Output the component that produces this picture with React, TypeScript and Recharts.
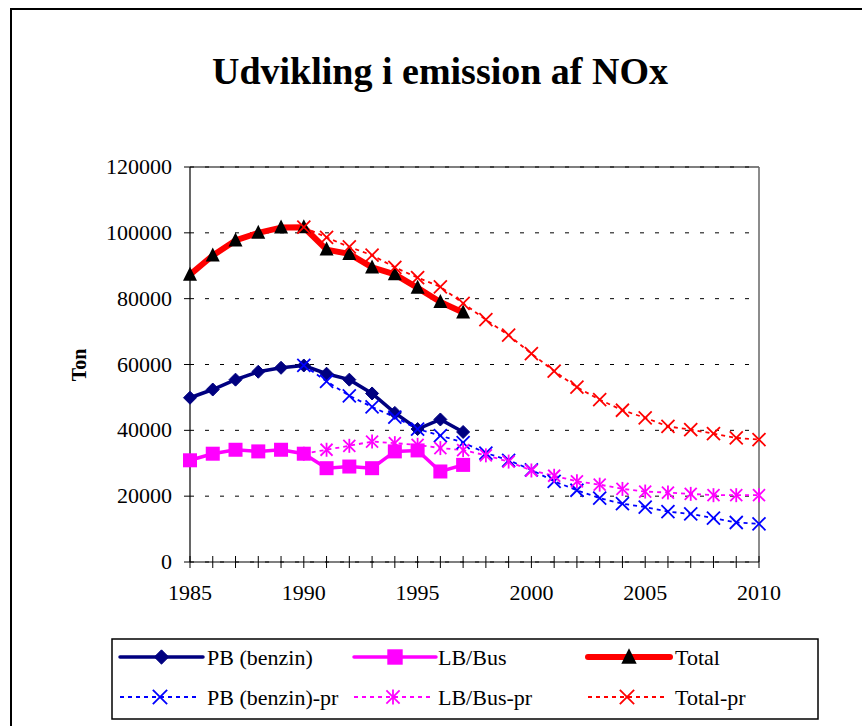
import React from 'react';
import { LineChart, Line, XAxis, YAxis, CartesianGrid, ReferenceLine } from 'recharts';

const years = [1985, 1986, 1987, 1988, 1989, 1990, 1991, 1992, 1993, 1994, 1995, 1996, 1997, 1998, 1999, 2000, 2001, 2002, 2003, 2004, 2005, 2006, 2007, 2008, 2009, 2010];
const pb = [49900, 52400, 55400, 57800, 59000, 59700, 57200, 55400, 51200, 45300, 40400, 43300, 39500];
const lb = [30900, 32900, 34100, 33600, 34100, 32900, 28500, 29000, 28500, 33600, 33900, 27500, 29500];
const total = [87300, 93100, 97700, 100000, 101600, 101700, 94900, 93600, 89500, 87400, 83300, 79000, 75800];
const prStartYear = 1990;
const pbPr = [59700, 54900, 50500, 47100, 44000, 40400, 38400, 36300, 33100, 30900, 28000, 24500, 21800, 19400, 17700, 16700, 15300, 14600, 13300, 12000, 11600];
const lbPr = [32900, 34100, 35300, 36600, 36100, 35600, 34600, 34000, 32400, 30500, 27800, 26200, 24500, 23500, 22200, 21400, 21100, 20700, 20300, 20300, 20300];
const totalPr = [101700, 98600, 95700, 93200, 89500, 86400, 83600, 78600, 73600, 68900, 63300, 58000, 53100, 49300, 46100, 43800, 41200, 40200, 39000, 37700, 37200];
const yTicks = [0, 20000, 40000, 60000, 80000, 100000, 120000];
const title = 'Udvikling i emission af NOx';
const yLabel = 'Ton';
const legendNames = ['PB (benzin)', 'LB/Bus', 'Total', 'PB (benzin)-pr', 'LB/Bus-pr', 'Total-pr'];

const data = years.map((year, i) => {
  const j = year - prStartYear;
  return {
    year,
    pb: i < pb.length ? pb[i] : null,
    lb: i < lb.length ? lb[i] : null,
    total: i < total.length ? total[i] : null,
    pbPr: j >= 0 ? pbPr[j] : null,
    lbPr: j >= 0 ? lbPr[j] : null,
    totalPr: j >= 0 ? totalPr[j] : null,
  };
});

const FONT = 'Liberation Serif';
const NAVY = '#000080';
const MAGENTA = '#FF00FF';
const RED = '#FF0000';
const BLUE = '#0000FF';

type Kind = 'diamond' | 'square' | 'triangle' | 'xblue' | 'asterisk' | 'xred';

const Marker = ({ kind, cx, cy, s = 1 }: { kind: Kind; cx: number; cy: number; s?: number }) => {
  switch (kind) {
    case 'diamond': {
      const r = 6.5 * s;
      return <polygon points={`${cx},${cy - r} ${cx + r},${cy} ${cx},${cy + r} ${cx - r},${cy}`} fill={NAVY} stroke={NAVY} strokeWidth={1} />;
    }
    case 'square': {
      const h = 7 * s;
      return <rect x={cx - h} y={cy - h} width={2 * h} height={2 * h} fill={MAGENTA} />;
    }
    case 'triangle': {
      const h = 7 * s;
      return <polygon points={`${cx},${cy - h - 1} ${cx + h},${cy + h - 1} ${cx - h},${cy + h - 1}`} fill="#000" />;
    }
    case 'xblue':
    case 'xred': {
      const c = kind === 'xblue' ? BLUE : RED;
      const h = 6.5 * s;
      return (
        <g stroke={c} strokeWidth={1.8}>
          <line x1={cx - h} y1={cy - h} x2={cx + h} y2={cy + h} />
          <line x1={cx - h} y1={cy + h} x2={cx + h} y2={cy - h} />
        </g>
      );
    }
    case 'asterisk': {
      const h = 6 * s;
      return (
        <g stroke={MAGENTA} strokeWidth={1.8}>
          <line x1={cx - h} y1={cy - h} x2={cx + h} y2={cy + h} />
          <line x1={cx - h} y1={cy + h} x2={cx + h} y2={cy - h} />
          <line x1={cx} y1={cy - h - 1} x2={cx} y2={cy + h + 1} />
        </g>
      );
    }
  }
  return null;
};

const dotFor = (kind: Kind) => (p: any) => {
  const key = `${kind}-${p.index}`;
  if (p.cx == null || p.cy == null || p.value == null || (Array.isArray(p.value) && p.value[1] == null)) {
    return <g key={key} />;
  }
  return (
    <g key={key}>
      <Marker kind={kind} cx={p.cx} cy={p.cy} />
    </g>
  );
};

const XTick = (props: any) => {
  const { x, y, payload } = props;
  const v = payload.value;
  return (
    <g>
      <line x1={x} x2={x} y1={y - 6} y2={y + 6} stroke="#000" strokeWidth={1} />
      {v % 5 === 0 ? (
        <text x={x} y={y + 38} textAnchor="middle" fontFamily={FONT} fontSize={22} fill="#000">
          {String(v)}
        </text>
      ) : null}
    </g>
  );
};

const YTick = (props: any) => {
  const { x, y, payload } = props;
  return (
    <text x={x} y={y + 7} textAnchor="end" fontFamily={FONT} fontSize={22} fill="#000">
      {String(payload.value)}
    </text>
  );
};

const legendItems: { name: string; color: string; width: number; dash?: string; kind: Kind; x0: number; x1: number; tx: number; y: number }[] = [
  { name: legendNames[0], color: NAVY, width: 3.5, kind: 'diamond', x0: 120, x1: 203, tx: 207, y: 657 },
  { name: legendNames[1], color: MAGENTA, width: 3.5, kind: 'square', x0: 354, x1: 436, tx: 438, y: 657 },
  { name: legendNames[2], color: RED, width: 6, kind: 'triangle', x0: 588, x1: 670, tx: 675, y: 657 },
  { name: legendNames[3], color: BLUE, width: 1.8, dash: '4 4', kind: 'xblue', x0: 120, x1: 200, tx: 207, y: 697 },
  { name: legendNames[4], color: MAGENTA, width: 1.8, dash: '4 4', kind: 'asterisk', x0: 354, x1: 432, tx: 438, y: 697 },
  { name: legendNames[5], color: RED, width: 1.8, dash: '4 4', kind: 'xred', x0: 588, x1: 666, tx: 675, y: 697 },
];

export default function App() {
  return (
    <div style={{ position: 'absolute', left: 0, top: 0, width: 862, height: 726, background: '#fff', overflow: 'hidden', fontFamily: FONT }}>
      <LineChart
        width={862}
        height={726}
        data={data}
        margin={{ top: 167, right: 103, left: 100, bottom: 124 }}
      >
        <CartesianGrid vertical={false} stroke="#000" strokeDasharray="4 11" />
        <XAxis
          dataKey="year"
          type="number"
          domain={[1985, 2010]}
          ticks={years}
          interval={0}
          height={40}
          tickLine={false}
          tickSize={0}
          tickMargin={0}
          tick={<XTick />}
          axisLine={{ stroke: '#000', strokeWidth: 1.2 }}
        />
        <YAxis
          type="number"
          domain={[0, 120000]}
          ticks={yTicks}
          width={90}
          tickSize={6}
          tickMargin={12}
          interval={0}
          axisLine={{ stroke: '#000', strokeWidth: 1.2 }}
          tickLine={{ stroke: '#000' }}
          tick={<YTick />}
        />
        <ReferenceLine y={120000} stroke="#000" strokeWidth={1.2} ifOverflow="visible" />
        <ReferenceLine x={2010} stroke="#666" strokeWidth={1.5} ifOverflow="visible" />
        <Line dataKey="pb" stroke={NAVY} strokeWidth={3.5} dot={dotFor('diamond')} isAnimationActive={false} connectNulls={false} activeDot={false} />
        <Line dataKey="lb" stroke={MAGENTA} strokeWidth={3.5} dot={dotFor('square')} isAnimationActive={false} connectNulls={false} activeDot={false} />
        <Line dataKey="total" stroke={RED} strokeWidth={6} strokeLinejoin="round" dot={dotFor('triangle')} isAnimationActive={false} connectNulls={false} activeDot={false} />
        <Line dataKey="pbPr" stroke={BLUE} strokeWidth={1.8} strokeDasharray="4 4" dot={dotFor('xblue')} isAnimationActive={false} connectNulls={false} activeDot={false} />
        <Line dataKey="lbPr" stroke={MAGENTA} strokeWidth={1.8} strokeDasharray="4 4" dot={dotFor('asterisk')} isAnimationActive={false} connectNulls={false} activeDot={false} />
        <Line dataKey="totalPr" stroke={RED} strokeWidth={1.8} strokeDasharray="4 4" dot={dotFor('xred')} isAnimationActive={false} connectNulls={false} activeDot={false} />
      </LineChart>
      <svg width={862} height={726} style={{ position: 'absolute', left: 0, top: 0, pointerEvents: 'none' }}>
        <rect x={11} y={9} width={900} height={800} fill="none" stroke="#000" strokeWidth={2} />
        <text x={440} y={84} textAnchor="middle" fontFamily={FONT} fontWeight="bold" fontSize={38} fill="#000">
          {title}
        </text>
        <text
          x={0}
          y={0}
          transform="translate(86 365) rotate(-90)"
          textAnchor="middle"
          fontFamily={FONT}
          fontWeight="bold"
          fontSize={20}
          fill="#000"
        >
          {yLabel}
        </text>
        <rect x={112} y={639} width={706} height={80} fill="#fff" stroke="#000" strokeWidth={1.5} />
        {legendItems.map((it) => (
          <g key={it.name}>
            <line x1={it.x0} x2={it.x1} y1={it.y} y2={it.y} stroke={it.color} strokeWidth={it.width} strokeDasharray={it.dash} strokeLinecap={it.dash ? 'butt' : 'round'} />
            <Marker kind={it.kind} cx={(it.x0 + it.x1) / 2} cy={it.y} s={1.1} />
            <text x={it.tx} y={it.y + 8} fontFamily={FONT} fontSize={22} fill="#000">
              {it.name}
            </text>
          </g>
        ))}
      </svg>
    </div>
  );
}
